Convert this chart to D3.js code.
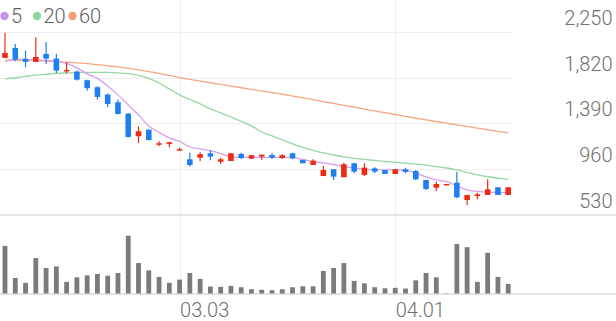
<!DOCTYPE html>
<html>
<head>
<meta charset="utf-8">
<script src="https://cdn.jsdelivr.net/npm/d3@7"></script>
<style>
  html, body { margin: 0; padding: 0; background: #fff; }
  svg { display: block; font-family: Roboto, "Noto Sans", sans-serif; }
  .grid { stroke: #eeeeee; stroke-width: 1; shape-rendering: crispEdges; }
  .base { stroke: #e4e4e4; stroke-width: 1.5; shape-rendering: crispEdges; }
  .axis-label { fill: #707070; font-size: 20px; font-weight: 300; }
  .legend-label { fill: #606060; font-size: 20px; font-weight: 300; }
</style>
</head>
<body>
<svg width="616" height="321"></svg>
<script>
var dates = ["02.03","02.04","02.05","02.08","02.09","02.10","02.15","02.16","02.17","02.18",
             "02.19","02.22","02.23","02.24","02.25","02.26","03.02","03.03","03.04","03.05",
             "03.08","03.09","03.10","03.11","03.12","03.15","03.16","03.17","03.18","03.19",
             "03.22","03.23","03.24","03.25","03.26","03.29","03.30","03.31","04.01","04.02",
             "04.05","04.06","04.07","04.08","04.09","04.12","04.13","04.14","04.15","04.16"];

var open  = [2004,2098,1995,1967,2042,1998,1879,1876,1795,1729,1660,1588,1481,1269,1331,1194,1197,1140,1053,1068,
             1109,1030,1037,1103,1059,1078,1093,1065,1109,1046, 999, 896, 959, 884,1015, 906, 968, 952, 915, 959,
              943, 859, 786, 812, 833, 671, 708, 718, 790, 718];
var high  = [2239,2135,2073,2198,2154,2042,1964,1885,1800,1738,1669,1613,1488,1363,1331,1222,1213,1162,1115,1119,
             1140,1068,1109,1115,1094,1096,1109,1100,1115,1046,1053, 990, 959,1021,1021,1015, 978, 952, 959, 974,
              952, 859, 843, 821, 937, 718, 739, 865, 790, 790];
var low   = [2004,1973,1917,1967,1948,1863,1857,1791,1697,1613,1544,1472,1260,1206,1228,1175,1166,1140, 983,1037,
             1044,1009,1037,1056,1056,1046,1056,1056,1053,1015, 999, 896, 859, 884, 921, 896, 921, 915, 915, 921,
              859, 765, 755, 812, 687, 624, 677, 718, 718, 718];
var close = [2051,1988,1967,2013,1998,1885,1891,1800,1720,1638,1572,1478,1262,1316,1234,1203,1213,1147, 999,1100,
             1078,1053,1109,1065,1091,1096,1068,1091,1062,1015,1040, 952, 890,1006, 937, 974, 937, 915, 959, 934,
              865, 774, 821, 821, 696, 718, 724, 771, 718, 790];

var ma5  = [1967,1990,1990,1981,1981,1971,1952,1910,1854,1812,1741,1657,1563,1469,1366,1305,1253,1220,1168,1150,
            1131,1107,1075,1070,1070,1070,1070,1070,1068,1051,1032,1018,1004, 984, 971, 959, 954, 953, 953, 948,
             924, 887, 859, 843, 802, 765, 751, 746, 741, 739];
var ma20 = [1807,1818,1830,1842,1851,1859,1863,1866,1868,1869,1868,1864,1856,1840,1812,1769,1713,1657,1614,1572,
            1525,1488,1450,1408,1366,1309,1272,1234,1197,1164,1136,1112,1093,1076,1062,1051,1042,1032,1025,1016,
            1007, 998, 985, 971, 953, 929, 907, 889, 876, 865];
var ma60 = [1985,1983,1981,1978,1974,1969,1964,1957,1950,1940,1930,1919,1905,1891,1875,1859,1840,1820,1802,1786,
            1771,1755,1740,1724,1709,1693,1678,1663,1646,1629,1612,1594,1577,1559,1542,1524,1507,1490,1473,1455,
            1438,1422,1407,1392,1376,1361,1346,1330,1315,1300];

var volume = [480000,157000,107000,357000,257000,273000,117000,163000,183000,197000,
              180000,207000,583000,307000,233000,167000,107000,140000,207000,147000,
               70000, 67000, 77000, 63000, 43000, 38000, 33000, 43000, 63000, 73000,
               73000,227000,257000,307000,127000,103000, 63000, 53000, 57000, 50000,
              133000,207000,163000,  3000,500000,467000,117000,410000,167000, 97000];

var priceTicks = [530, 960, 1390, 1820, 2250];
var dateTicks = ["03.03", "04.01"];

var maNames = ["5", "20", "60"];
var maColors = ["#d7a0ec", "#95d8a3", "#f7a680"];
var maDots = ["#cc92e8", "#8ed49e", "#f69e78"];
var upColor = "#ec2b14", downColor = "#1f7ff0";

var svg = d3.select("svg"),
    width = +svg.attr("width"),
    height = +svg.attr("height");

var plotRight = 512;

var x = d3.scalePoint().domain(dates).range([5, 508.2]);
var y = d3.scaleLinear().domain([530, 2250]).range([215, 31.7]);
var yVol = d3.scaleLinear().domain([0, d3.max(volume)]).range([293.5, 235.7]);

var candles = dates.map(function(d, i) {
    return {date: d, open: open[i], high: high[i], low: low[i], close: close[i], volume: volume[i]};
});

// grid
svg.append("g").selectAll("line")
    .data(priceTicks.slice(1))
    .enter().append("line")
    .attr("class", "grid")
    .attr("x1", 0).attr("x2", plotRight)
    .attr("y1", function(d) { return Math.round(y(d)) + 0.5; })
    .attr("y2", function(d) { return Math.round(y(d)) + 0.5; });

svg.append("g").selectAll("line")
    .data(dateTicks)
    .enter().append("line")
    .attr("class", "grid")
    .attr("x1", function(d) { return Math.round(x(d)) + 0.5; })
    .attr("x2", function(d) { return Math.round(x(d)) + 0.5; })
    .attr("y1", 0).attr("y2", 296);

svg.append("line").attr("class", "base")
    .attr("x1", 0).attr("x2", width)
    .attr("y1", y(530)).attr("y2", y(530));

svg.append("line").attr("class", "base")
    .attr("x1", 0).attr("x2", width)
    .attr("y1", yVol(0) + 0.5).attr("y2", yVol(0) + 0.5);

// price labels
svg.append("g").selectAll("text")
    .data(priceTicks)
    .enter().append("text")
    .attr("class", "axis-label")
    .attr("x", 612.5)
    .attr("y", function(d) { return y(d) - 7; })
    .style("text-anchor", "end")
    .text(function(d) { return d3.format(",")(d); });

// date labels
svg.append("g").selectAll("text")
    .data(dateTicks)
    .enter().append("text")
    .attr("class", "axis-label")
    .attr("x", function(d) { return x(d) + 0.5; })
    .attr("y", 317)
    .text(function(d) { return d; });

// volume
svg.append("g").selectAll("rect")
    .data(candles)
    .enter().append("rect")
    .attr("x", function(d) { return x(d.date) - 2.4; })
    .attr("width", 4.8)
    .attr("y", function(d) { return yVol(d.volume); })
    .attr("height", function(d) { return yVol(0) - yVol(d.volume); })
    .attr("fill", "#7b7b7b");

// moving averages
var line = d3.line()
    .x(function(d, i) { return x(dates[i]); })
    .y(function(d) { return y(d); })
    .curve(d3.curveMonotoneX);

[ma60, ma20, ma5].forEach(function(series, k) {
    svg.append("path")
        .datum(series)
        .attr("fill", "none")
        .attr("stroke", maColors[2 - k])
        .attr("stroke-width", 1.3)
        .attr("d", line);
});

// candles
var candle = svg.append("g").selectAll("g")
    .data(candles)
    .enter().append("g")
    .attr("fill", function(d) { return d.close >= d.open ? upColor : downColor; })
    .attr("stroke", function(d) { return d.close >= d.open ? upColor : downColor; });

candle.append("line")
    .attr("x1", function(d) { return x(d.date); })
    .attr("x2", function(d) { return x(d.date); })
    .attr("y1", function(d) { return y(d.high); })
    .attr("y2", function(d) { return y(d.low); })
    .attr("stroke-width", 1.2);

candle.append("rect")
    .attr("stroke", "none")
    .attr("x", function(d) { return x(d.date) - 2.8; })
    .attr("width", 5.6)
    .attr("y", function(d) { return y(Math.max(d.open, d.close)); })
    .attr("height", function(d) { return Math.max(1.5, Math.abs(y(d.open) - y(d.close))); });

// legend
var legend = svg.append("g").selectAll("g")
    .data(maNames)
    .enter().append("g")
    .attr("transform", function(d, i) { return "translate(" + [4.5, 37, 72.5][i] + ",16)"; });

legend.append("circle")
    .attr("r", 4.2)
    .attr("fill", function(d, i) { return maDots[i]; });

legend.append("text")
    .attr("class", "legend-label")
    .attr("x", 6.5)
    .attr("y", 7)
    .text(function(d) { return d; });
</script>
</body>
</html>
